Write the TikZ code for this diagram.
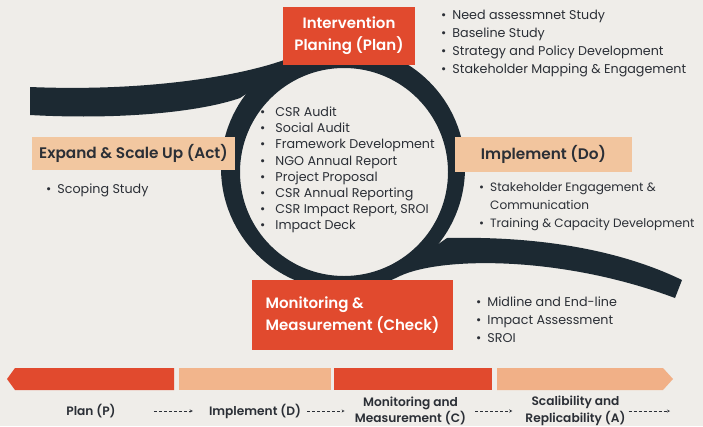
\documentclass[tikz,border=0pt]{standalone}
\usepackage{fontspec}
\setmainfont{Poppins}[BoldFont={Poppins SemiBold}]
\usetikzlibrary{positioning}
\definecolor{paper}{HTML}{EFEDE9}
\definecolor{brick}{HTML}{E14A2E}
\definecolor{peach}{HTML}{F2C7A0}
\definecolor{apricot}{HTML}{F2B58C}
\definecolor{ink}{HTML}{1C2932}
\definecolor{txt}{HTML}{2B2F36}

\begin{document}
\begin{tikzpicture}[x=1pt,y=-1pt]
\tikzstyle{redbox}=[fill=brick, text=white, inner sep=0pt, align=center, font=\fontsize{15}{22}\selectfont\bfseries]
\tikzstyle{tanbox}=[fill=peach, text=txt, inner sep=0pt, font=\fontsize{15.3}{18}\selectfont\bfseries]
\tikzstyle{items}=[align=left, inner sep=0pt, text=txt, font=\fontsize{12.7}{18}\selectfont]
\tikzstyle{steplbl}=[align=center, inner sep=0pt, text=txt, font=\fontsize{12.2}{16.5}\selectfont\bfseries]
\tikzstyle{flow}=[densely dashed, -stealth, thin, txt]

\useasboundingbox (0,0) rectangle (703,426);
\fill[paper] (0,0) rectangle (703,426);

% ring and the two swooshes
\fill[ink, even odd rule] (343,168) circle (122pt) (344,172) circle (104pt);
\fill[ink] (295,55.8) .. controls (250,75) and (150,92) .. (30,87) -- (30,115)
  .. controls (120,120) and (200,112) .. (240,98) -- (260,85) -- cycle;
\fill[ink] (400,276) .. controls (440,257) and (560,255) .. (675,298) -- (682,280)
  .. controls (620,250) and (540,236) .. (447,238) -- (430,250) -- cycle;

% the four stages
\node[redbox, minimum width=132pt, minimum height=58pt] (plan) at (349,36) {Intervention\\Planing (Plan)};
\node[tanbox, minimum width=203pt, minimum height=33pt] (act) at (133.5,153.5) {Expand \& Scale Up (Act)};
\node[tanbox, fill=peach!90!apricot, minimum width=177pt, minimum height=35pt] (do) at (543.5,154.5) {Implement (Do)};
\node[redbox, minimum width=201pt, minimum height=70pt, align=left] (check) at (352.5,315) {Monitoring \&\\Measurement (Check)};

% lists
\node[items, anchor=west] (planlist) at (441,44) {\textbullet\hspace{6pt}Need assessmnet Study\\
  \textbullet\hspace{6pt}Baseline Study\\
  \textbullet\hspace{6pt}Strategy and Policy Development\\
  \textbullet\hspace{6pt}Stakeholder Mapping \& Engagement};
\node[items, anchor=west, font=\fontsize{12.7}{16.2}\selectfont] (reports) at (260,170) {\textbullet\hspace{10pt}CSR Audit\\
  \textbullet\hspace{10pt}Social Audit\\
  \textbullet\hspace{10pt}Framework Development\\
  \textbullet\hspace{10pt}NGO Annual Report\\
  \textbullet\hspace{10pt}Project Proposal\\
  \textbullet\hspace{10pt}CSR Annual Reporting\\
  \textbullet\hspace{10pt}CSR Impact Report, SROI\\
  \textbullet\hspace{10pt}Impact Deck};
\node[items, anchor=west] (actlist) at (46,190) {\textbullet\hspace{6pt}Scoping Study};
\node[items, anchor=west, font=\fontsize{12.1}{18}\selectfont] (dolist) at (479,207) {\textbullet\hspace{6pt}Stakeholder Engagement \&\\
  \phantom{\textbullet}\hspace{6pt}Communication\\
  \textbullet\hspace{6pt}Training \& Capacity Development};
\node[items, anchor=west] (checklist) at (476,319.5) {\textbullet\hspace{6pt}Midline and End-line\\
  \textbullet\hspace{6pt}Impact Assessment\\
  \textbullet\hspace{6pt}SROI};

% timeline bar
\fill[brick] (7,379) -- (15,368) -- (174,368) -- (174,390) -- (15,390) -- cycle;
\fill[apricot] (179,368) rectangle (331,390);
\fill[brick] (334,368) rectangle (492,390);
\fill[apricot!95!brick] (497,368) -- (663,368) -- (673,379) -- (663,390) -- (497,390) -- cycle;

\node[steplbl] (p) at (91,411) {Plan (P)};
\node[steplbl] (d) at (255,411) {Implement (D)};
\node[steplbl] (c) at (410.5,411) {Monitoring and\\Measurement (C)};
\node[steplbl] (a) at (575.5,411) {Scalibility and\\Replicability (A)};
\coordinate (tip) at (670,411);

\draw[flow, shorten <=38pt, shorten >=16pt] (p) -- (d);
\draw[flow, shorten <=6pt, shorten >=10pt] (d) -- (c);
\draw[flow, shorten <=9pt, shorten >=13pt] (c) -- (a);
\draw[flow, shorten <=3pt] (a) -- (tip);

\end{tikzpicture}
\end{document}
